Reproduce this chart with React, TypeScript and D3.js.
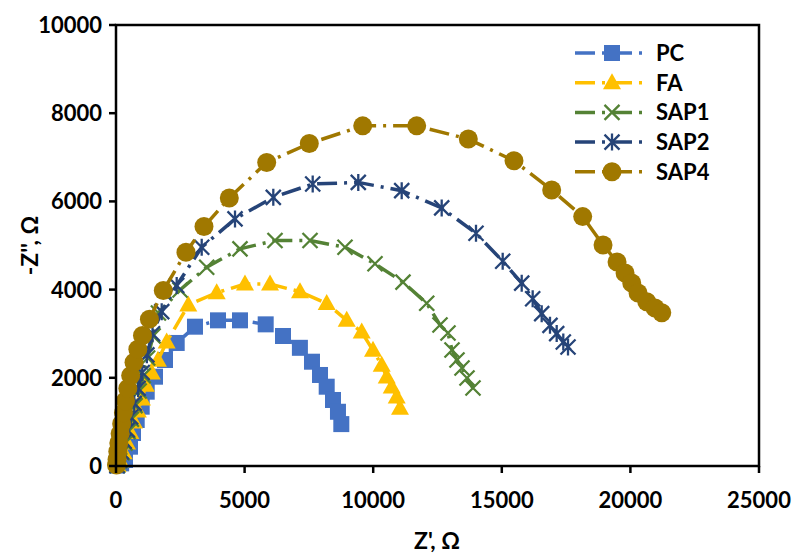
import React from "react";
import * as d3 from "d3";

const xTicks = [0, 5000, 10000, 15000, 20000, 25000];
const yTicks = [0, 2000, 4000, 6000, 8000, 10000];

const seriesNames = ["PC", "FA", "SAP1", "SAP2", "SAP4"];

const pcData: [number, number][] = [
  [40, 10], [200, 60], [350, 136], [544, 438], [661, 748], [805, 1043], [999, 1345], [1194, 1685],
  [1516, 2025], [1905, 2404], [2360, 2790], [3071, 3159], [3966, 3303], [4821, 3303], [5820, 3212],
  [6493, 2948], [7150, 2680], [7620, 2365], [7932, 2064], [8192, 1798], [8437, 1497], [8630, 1230], [8760, 950],
];

const faData: [number, number][] = [
  [60, 10], [160, 120], [300, 300], [430, 520], [560, 760], [700, 1000], [850, 1250], [1010, 1520],
  [1160, 1830], [1390, 2110], [1630, 2400], [1970, 2810], [2811, 3651], [3915, 3930], [5015, 4125],
  [5988, 4125], [7154, 3953], [8192, 3687], [8970, 3303], [9553, 3038], [9992, 2624], [10331, 2285],
  [10525, 2020], [10719, 1794], [10914, 1567], [11042, 1312],
];

const sap1Data: [number, number][] = [
  [60, 10], [140, 120], [240, 300], [350, 520], [470, 780], [600, 1060], [740, 1370], [900, 1700],
  [1060, 2050], [1230, 2450], [1440, 2950], [1650, 3470], [2488, 3991], [3526, 4508], [4821, 4924],
  [6182, 5112], [7543, 5112], [8903, 4961], [10070, 4585], [11158, 4169], [12080, 3690], [12597, 3198],
  [12908, 3016], [13064, 2631], [13258, 2404], [13453, 2223], [13647, 1996], [13880, 1769],
];

const sap2Data: [number, number][] = [
  [40, 10], [120, 130], [210, 320], [320, 560], [440, 820], [570, 1110], [710, 1420], [860, 1760],
  [1020, 2120], [1200, 2520], [1420, 3000], [1777, 3500], [2360, 4094], [3332, 4961], [4627, 5603],
  [6116, 6092], [7648, 6395], [9420, 6431], [11108, 6243], [12663, 5852], [13997, 5277], [15035, 4644],
  [15774, 4146], [16201, 3793], [16551, 3454], [16874, 3189], [17134, 3002], [17391, 2812], [17574, 2699],
];

const sap4Data: [number, number][] = [
  [20, 20], [40, 150], [70, 330], [110, 520], [160, 730], [220, 960], [290, 1210], [370, 1480],
  [460, 1760], [570, 2050], [700, 2350], [850, 2650], [1030, 2960], [1300, 3330], [1839, 3981],
  [2721, 4847], [3421, 5429], [4405, 6078], [5859, 6883], [7515, 7313], [9592, 7713], [11691, 7713],
  [13698, 7413], [15474, 6921], [16940, 6259], [18145, 5655], [18936, 5012], [19481, 4627],
  [19792, 4377], [20053, 4150], [20298, 3924], [20636, 3726], [20959, 3583], [21219, 3477],
];

const seriesData = [pcData, faData, sap1Data, sap2Data, sap4Data];
const colors = ["#4472C4", "#FFC000", "#548235", "#264478", "#A07800"];
const markers = ["square", "triangle", "x", "asterisk", "circle"];

const W = 792;
const H = 553;
const left = 116;
const right = 759;
const top = 25;
const bottom = 466;
const FONT = "Lato, 'Open Sans', sans-serif";

function Marker({ type, x, y, color }: { type: string; x: number; y: number; color: string }) {
  if (type === "square") return <rect x={x - 8} y={y - 8} width={16} height={16} fill={color} />;
  if (type === "triangle")
    return <path d={`M${x},${y - 9.5} L${x + 9},${y + 6.5} L${x - 9},${y + 6.5} Z`} fill={color} />;
  if (type === "circle") return <circle cx={x} cy={y} r={9.5} fill={color} />;
  if (type === "x")
    return (
      <path
        d={`M${x - 7.5},${y - 7.5} L${x + 7.5},${y + 7.5} M${x - 7.5},${y + 7.5} L${x + 7.5},${y - 7.5}`}
        stroke={color}
        strokeWidth={2.3}
        fill="none"
      />
    );
  return (
    <path
      d={`M${x - 7.5},${y - 7.5} L${x + 7.5},${y + 7.5} M${x - 7.5},${y + 7.5} L${x + 7.5},${y - 7.5} M${x},${y - 8.5} L${x},${y + 8.5}`}
      stroke={color}
      strokeWidth={2.3}
      fill="none"
    />
  );
}

export default function App() {
  const xScale = d3.scaleLinear().domain([0, 25000]).range([left, right]);
  const yScale = d3.scaleLinear().domain([0, 10000]).range([bottom, top]);
  const line = d3
    .line<[number, number]>()
    .x((d) => xScale(d[0]))
    .y((d) => yScale(d[1]));

  const dash = "20,7,3,7";
  const legX = 575;
  const legY0 = 53;
  const legDy = 29.7;

  return (
    <svg
      width={W}
      height={H}
      style={{ position: "absolute", left: 0, top: 0, background: "#fff" }}
      fontFamily={FONT}
    >
      <rect x={0} y={0} width={W} height={H} fill="#fff" />
      {seriesData.map((data, i) => (
        <g key={seriesNames[i]}>
          <path d={line(data) || ""} fill="none" stroke={colors[i]} strokeWidth={3.5} strokeDasharray={dash} />
          {data.map((d, j) => (
            <Marker key={j} type={markers[i]} x={xScale(d[0])} y={yScale(d[1])} color={colors[i]} />
          ))}
        </g>
      ))}
      <rect x={left} y={top} width={right - left} height={bottom - top} fill="none" stroke="#000" strokeWidth={2.5} />
      {yTicks.map((t) => (
        <g key={"y" + t}>
          <line x1={left - 7} x2={left} y1={yScale(t)} y2={yScale(t)} stroke="#000" strokeWidth={2.5} />
          <text x={left - 14} y={yScale(t)} dy="0.36em" textAnchor="end" fontSize={22} fontWeight="bold" fill="#000">
            {t}
          </text>
        </g>
      ))}
      {xTicks.map((t) => (
        <g key={"x" + t}>
          <line x1={xScale(t)} x2={xScale(t)} y1={bottom} y2={bottom + 7} stroke="#000" strokeWidth={2.5} />
          <text x={xScale(t)} y={500} dy="0.36em" textAnchor="middle" fontSize={22} fontWeight="bold" fill="#000">
            {t}
          </text>
        </g>
      ))}
      <text x={437} y={541} dy="0.36em" textAnchor="middle" fontSize={23} fontWeight="bold" fill="#000">
        Z', Ω
      </text>
      <text
        transform={`translate(30,${(top + bottom) / 2}) rotate(-90)`}
        textAnchor="middle"
        dy="0.36em"
        fontSize={23}
        fontWeight="bold"
        fill="#000"
      >
        -Z'', Ω
      </text>
      {seriesNames.map((name, i) => {
        const y = legY0 + i * legDy;
        return (
          <g key={"leg" + name}>
            <line x1={legX} x2={legX + 70} y1={y} y2={y} stroke={colors[i]} strokeWidth={3.5} strokeDasharray={dash} />
            <Marker type={markers[i]} x={legX + 37} y={y} color={colors[i]} />
            <text x={legX + 81} y={y} dy="0.36em" fontSize={22} fontWeight="bold" fill="#000">
              {name}
            </text>
          </g>
        );
      })}
    </svg>
  );
}
